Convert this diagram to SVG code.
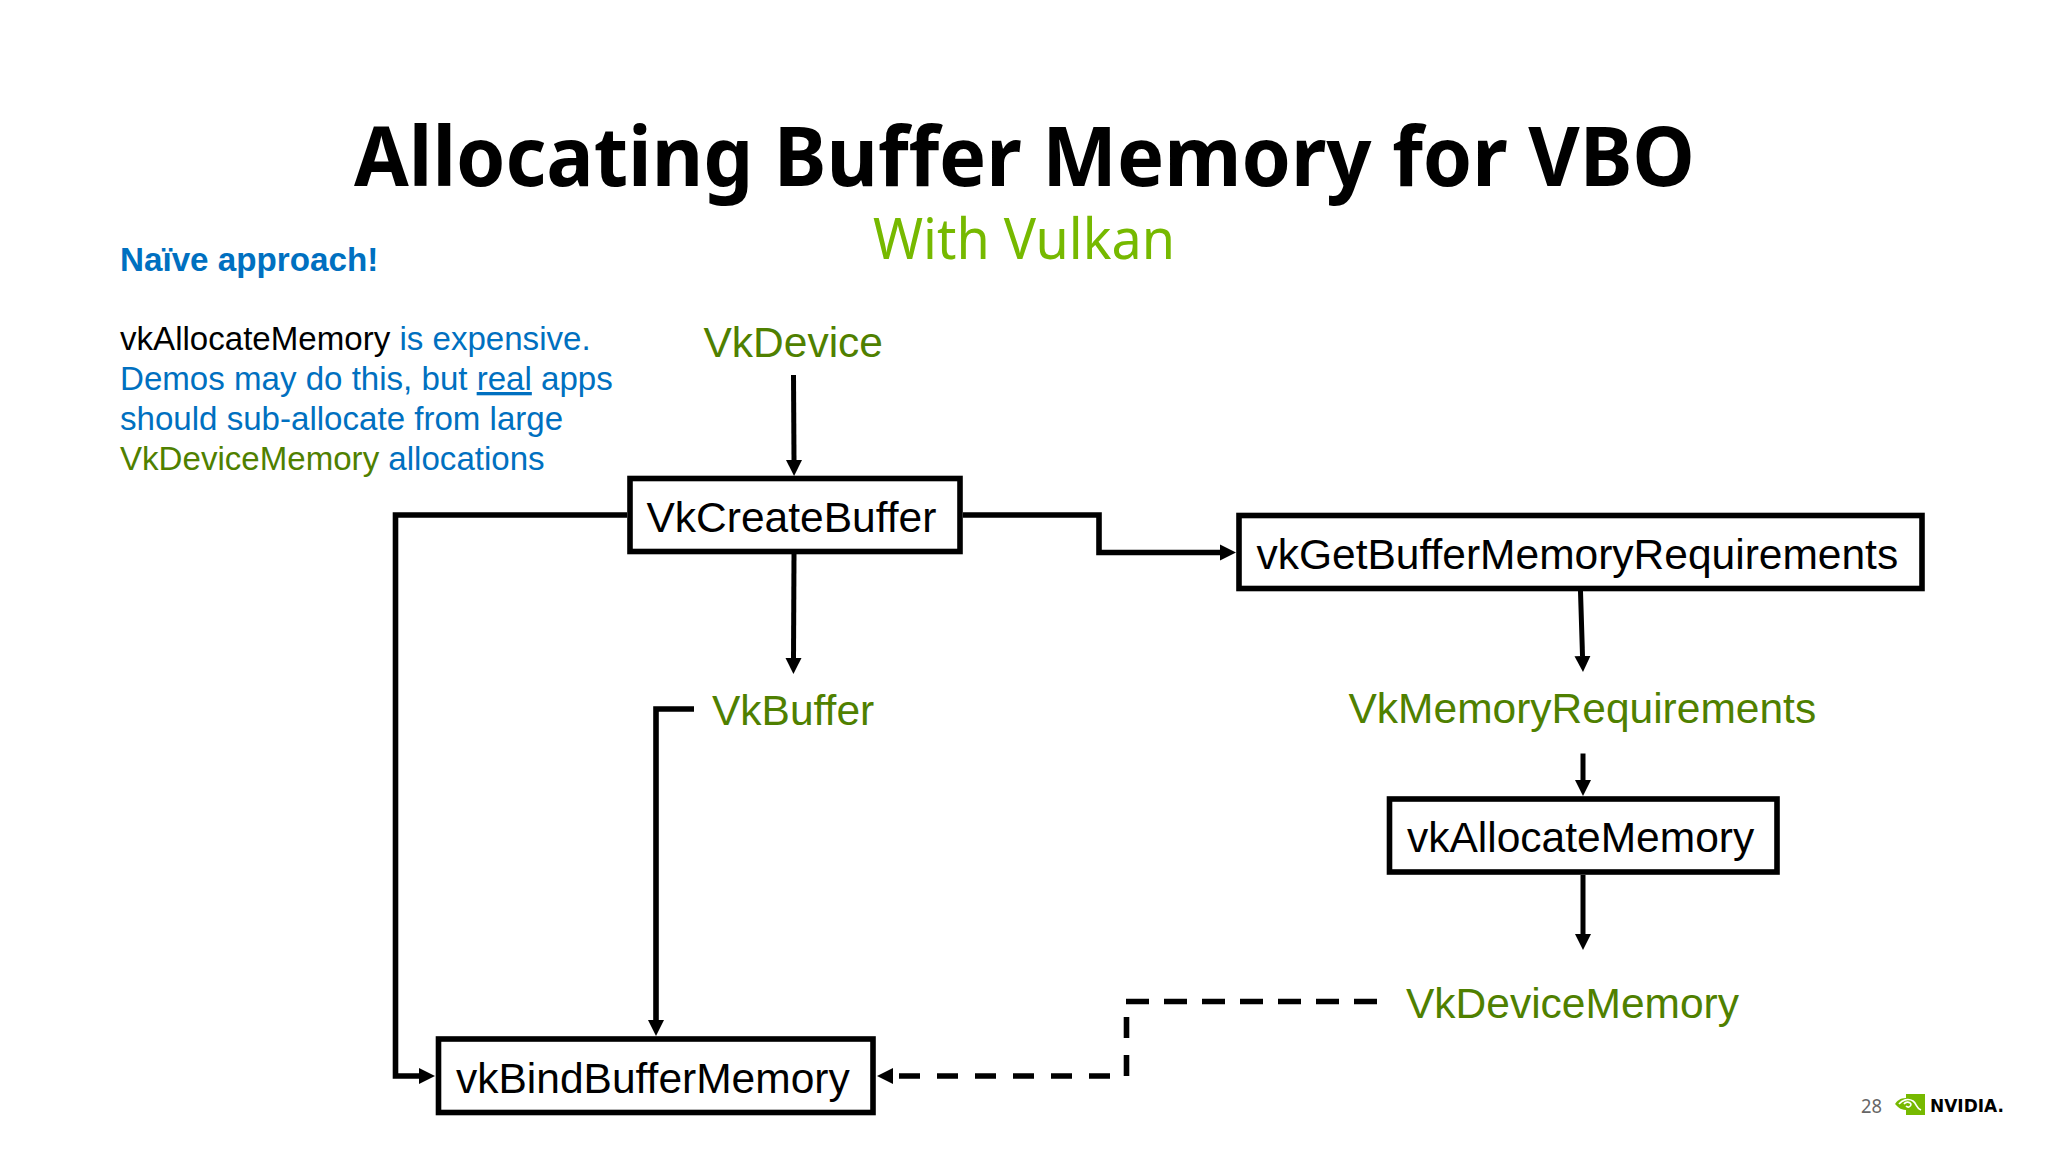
<svg xmlns="http://www.w3.org/2000/svg" width="2048" height="1152" viewBox="0 0 2048 1152">
<style>
.box{fill:#fff;stroke:#000;stroke-width:5.6}
.t{font-family:"Liberation Sans",Arial,sans-serif}
.node{font-size:42.5px;fill:#000}
.lab{font-size:42.5px;fill:#4f8000}
.body{font-size:33.1px;fill:#0070c0}
.conn{fill:none;stroke:#000;stroke-width:5}
.thick{stroke-width:5.6}
</style>
<defs>
<marker id="arrow" markerUnits="userSpaceOnUse" markerWidth="18" markerHeight="18" refX="0" refY="9" orient="auto"><path d="M0 1L16 9L0 17Z" fill="#000"/></marker>
</defs>
<rect width="2048" height="1152" fill="#fff"/>
<g id="title">
<text x="354" y="186" font-family="'Noto Sans',sans-serif" font-weight="700" font-size="82" textLength="1341" lengthAdjust="spacingAndGlyphs" fill="#000">Allocating Buffer Memory for VBO</text>
<text x="873" y="259" font-family="'Noto Sans',sans-serif" font-size="56" textLength="302" lengthAdjust="spacingAndGlyphs" fill="#76b900">With Vulkan</text>
</g>
<g id="notes" class="t">
<text x="120" y="270.5" font-size="33.2" font-weight="700" fill="#0070c0">Naïve approach!</text>
<text class="body" x="120" y="350"><tspan fill="#000">vkAllocateMemory</tspan> is expensive.</text>
<text class="body" x="120" y="390">Demos may do this, but <tspan text-decoration="underline">real</tspan> apps</text>
<text class="body" x="120" y="429.5">should sub-allocate from large</text>
<text class="body" x="120" y="469.5"><tspan fill="#4f8000">VkDeviceMemory</tspan> allocations</text>
</g>
<g id="connectors">
<path class="conn" d="M793.5 375L794 460" marker-end="url(#arrow)"/>
<path class="conn thick" d="M627 515H395.5V1076H419" marker-end="url(#arrow)"/>
<path class="conn thick" d="M963 515H1099V552.5H1220" marker-end="url(#arrow)"/>
<path class="conn" d="M794 554L793.5 658" marker-end="url(#arrow)"/>
<path class="conn thick" d="M694 709H656V1020" marker-end="url(#arrow)"/>
<path class="conn" d="M1580.5 591L1582.5 656" marker-end="url(#arrow)"/>
<path class="conn" d="M1583 753.5V780" marker-end="url(#arrow)"/>
<path class="conn" d="M1583 875V934" marker-end="url(#arrow)"/>
<path class="conn thick" stroke-dasharray="23 15" d="M1377 1001.5H1126"/>
<path class="conn thick" stroke-dasharray="21 17" d="M1126.5 1017V1076"/>
<path class="conn thick" stroke-dasharray="21 17" d="M1110 1076H893" marker-end="url(#arrow)"/>
</g>
<g id="vkdevice"><text class="t lab" x="703.5" y="357">VkDevice</text></g>
<g id="vkcreatebuffer"><rect class="box" x="630" y="478.5" width="330" height="73"/><text class="t node" x="646.5" y="532">VkCreateBuffer</text></g>
<g id="vkgetbuffermemoryrequirements"><rect class="box" x="1239" y="515.5" width="683" height="73"/><text class="t node" x="1256.5" y="568.5">vkGetBufferMemoryRequirements</text></g>
<g id="vkbuffer"><text class="t lab" x="712" y="725">VkBuffer</text></g>
<g id="vkmemoryrequirements"><text class="t lab" x="1348.5" y="723">VkMemoryRequirements</text></g>
<g id="vkallocatememory"><rect class="box" x="1389.5" y="799" width="387.5" height="73"/><text class="t node" x="1407" y="852">vkAllocateMemory</text></g>
<g id="vkdevicememory"><text class="t lab" x="1406" y="1018">VkDeviceMemory</text></g>
<g id="vkbindbuffermemory"><rect class="box" x="438.5" y="1039" width="434.5" height="73.5"/><text class="t node" x="456" y="1092.5">vkBindBufferMemory</text></g>
<g id="footer">
<text x="1861" y="1112.5" font-family="'Noto Sans',sans-serif" font-size="20" textLength="21" lengthAdjust="spacingAndGlyphs" fill="#666">28</text>
<g id="logo">
<path d="M1906 1094H1925V1115H1906V1110C1900 1110 1897 1106 1895 1104C1897 1101 1900 1098 1906 1098Z" fill="#76b900"/>
<path d="M1899 1104C1902 1100 1908 1098 1913 1101C1917 1104 1916 1108 1921 1110" fill="none" stroke="#fff" stroke-width="1.6"/>
<path d="M1904 1104C1906 1101 1910 1102 1911 1104C1911 1107 1908 1108 1906 1106" fill="none" stroke="#fff" stroke-width="1.6"/>
<text x="1930" y="1112" font-family="'DejaVu Sans',sans-serif" font-size="18" font-weight="700" textLength="74" lengthAdjust="spacingAndGlyphs" fill="#000">NVIDIA.</text>
</g>
</g>
</svg>
